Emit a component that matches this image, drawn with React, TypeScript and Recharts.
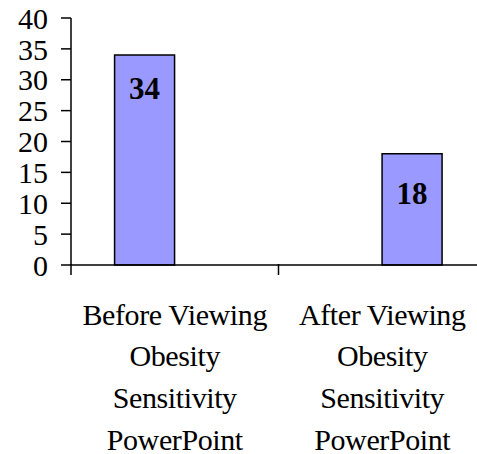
import React from 'react';
import { BarChart, Bar, XAxis, YAxis, LabelList } from 'recharts';

const categories: string[][] = [
  ['Before Viewing', 'Obesity', 'Sensitivity', 'PowerPoint'],
  ['After Viewing', 'Obesity', 'Sensitivity', 'PowerPoint'],
];
const beforeValues: (number | null)[] = [34, null];
const afterValues: (number | null)[] = [null, 18];
const yTicks: number[] = [0, 5, 10, 15, 20, 25, 30, 35, 40];

const data = categories.map((c, i) => ({
  key: String(i),
  lines: c,
  before: beforeValues[i],
  after: afterValues[i],
}));

const CHART_W = 486;
const LEFT = 71;
const BAND = (CHART_W - LEFT) / categories.length;
const FONT = '"Liberation Serif", "Times New Roman", serif';

const XTick = (props: any) => {
  const { x, y, payload, index } = props;
  const lines: string[] = categories[payload.index ?? index] || [];
  const left = x - BAND / 2;
  return (
    <g>
      <line x1={left} y1={y - 9} x2={left} y2={y + 2} stroke="#000" strokeWidth={1.5} />
      {index === categories.length - 1 && (
        <line x1={x + BAND / 2} y1={y - 9} x2={x + BAND / 2} y2={y + 2} stroke="#000" strokeWidth={1.5} />
      )}
      {lines.map((l, i) => (
        <text
          key={i}
          x={x}
          y={y + 41 + i * 41.7}
          textAnchor="middle"
          dominantBaseline="central"
          fontFamily={FONT}
          fontSize={30}
          letterSpacing={-0.4}
          fill="#000"
        >
          {l}
        </text>
      ))}
    </g>
  );
};

const renderLabel = (offsetY: number) => (props: any) => {
  const { x, y, width, value } = props;
  if (value === null || value === undefined) return null;
  return (
    <text
      x={x + width / 2}
      y={y + offsetY}
      textAnchor="middle"
      dominantBaseline="central"
      fontFamily={FONT}
      fontWeight="bold"
      fontSize={31}
      fill="#000"
    >
      {value}
    </text>
  );
};

export default function App() {
  return (
    <div style={{ position: 'fixed', left: 0, top: 0, width: 477, height: 454, overflow: 'hidden', background: '#fff' }}>
      <BarChart
        width={CHART_W}
        height={454}
        data={data}
        margin={{ top: 18, right: 0, left: 0, bottom: 0 }}
        barGap={0}
        barCategoryGap="21%"
      >
        <XAxis
          dataKey="key"
          axisLine={{ stroke: '#000', strokeWidth: 1.5 }}
          tickLine={false}
          tick={<XTick />}
          interval={0}
          height={189}
        />
        <YAxis
          domain={[0, 40]}
          ticks={yTicks}
          width={LEFT}
          axisLine={{ stroke: '#000', strokeWidth: 1.5 }}
          tickLine={{ stroke: '#000', strokeWidth: 1.5 }}
          tickSize={10}
          tickMargin={13}
          interval={0}
          tick={{ fontFamily: FONT, fontSize: 30, fill: '#000' }}
        />
        <Bar dataKey="before" fill="#9999FF" stroke="#000" strokeWidth={1.5} isAnimationActive={false}>
          <LabelList dataKey="before" content={renderLabel(33)} />
        </Bar>
        <Bar dataKey="after" fill="#9999FF" stroke="#000" strokeWidth={1.5} isAnimationActive={false}>
          <LabelList dataKey="after" content={renderLabel(40)} />
        </Bar>
      </BarChart>
    </div>
  );
}
